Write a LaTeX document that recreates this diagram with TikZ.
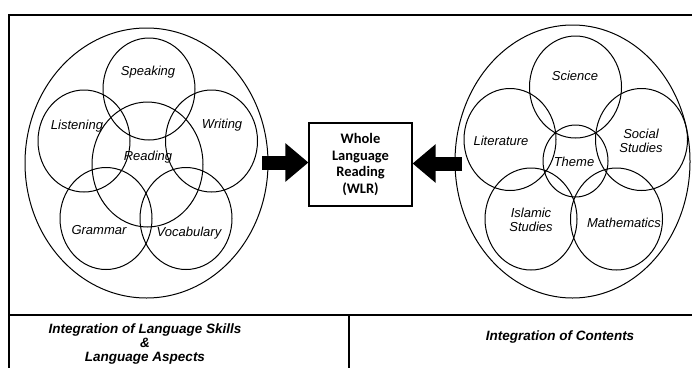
\documentclass[tikz,border=0pt]{standalone}
\usepackage{fontspec}
\setmainfont{Liberation Sans}
\newfontfamily\boxfont{Carlito}
\usetikzlibrary{shapes.geometric,arrows.meta}

\begin{document}
\begin{tikzpicture}[x=1pt,y=-1pt,
	ring/.style={draw, ellipse, line width=1pt, inner sep=0pt,
		minimum width=92pt, minimum height=102pt},
	word/.style={font=\fontsize{13}{14.5}\selectfont\itshape, align=center, inner sep=0pt},
	caption/.style={font=\fontsize{13.5}{14}\selectfont\bfseries\itshape, align=center, inner sep=0pt},
	blockarrow/.style={line width=14pt, -{Triangle[length=23pt,width=37pt]}}]

	\useasboundingbox (0,0) rectangle (692,367);
	\clip (0,0) rectangle (692,367);

	% frame
	\draw[line width=1.2pt] (9,380) -- (9,15) -- (700,15);
	\draw[line width=1.2pt] (9,315) -- (700,315);
	\draw[line width=1.2pt] (349,315) -- (349,380);

	% outer ellipses
	\node[draw, ellipse, line width=1pt, minimum width=243pt, minimum height=270pt] (skills) at (146.5,163) {};
	\node[draw, ellipse, line width=1pt, minimum width=235pt, minimum height=273pt] (contents) at (572.5,161.5) {};

	% skill circles
	\foreach \n/\x/\y in {spk/149/89, lis/84/141, wri/211.5/141, gra/106/218.5, voc/186/218.5}
	\node[ring] (\n) at (\x,\y) {};
	\node[ring, minimum width=111pt, minimum height=125pt] (rea) at (147.5,164.5) {};

	% content circles
	\foreach \n/\x/\y in {sci/575.5/87, lit/510/139.5, soc/641.5/139.5, isl/531/219, mat/616.5/219}
	\node[ring] (\n) at (\x,\y) {};
	\node[ring, minimum width=65pt, minimum height=72pt] (thm) at (575.5,161) {};

	% labels
	\node[word] (spkT) at (148,72)  {Speaking};
	\node[word] (lisT) at (77,126)  {Listening};
	\node[word] (wriT) at (222,125) {Writing};
	\node[word] (reaT) at (148,157) {Reading};
	\node[word] (graT) at (99,230)  {Grammar};
	\node[word] (vocT) at (189,233) {Vocabulary};

	\node[word] (sciT) at (575,76)  {Science};
	\node[word] (litT) at (501,141) {Literature};
	\node[word] (socT) at (641,141) {Social\\Studies};
	\node[word] (thmT) at (574,162) {Theme};
	\node[word] (islT) at (531,220) {Islamic\\Studies};
	\node[word] (matT) at (624,223) {Mathematics};

	% centre box
	\node[draw, line width=1.1pt, minimum width=103pt, minimum height=83pt, align=center,
		font=\boxfont\bfseries\fontsize{14.5}{16.5}\selectfont] (wlr) at (360.5,164.5)
		{Whole\\Language\\Reading\\(WLR)};

	% block arrows
	\coordinate (lft) at (262,162.5);
	\coordinate (rgt) at (462,163.5);
	\draw[blockarrow] (lft) -- (lft -| wlr.west);
	\draw[blockarrow] (rgt) -- (rgt -| wlr.east);

	% captions
	\node[caption] (skillsCap) at (145,344) {Integration of Language Skills\\\&\\Language Aspects};
	\node[caption] (contentsCap) at (560,337) {Integration of Contents};

\end{tikzpicture}
\end{document}
